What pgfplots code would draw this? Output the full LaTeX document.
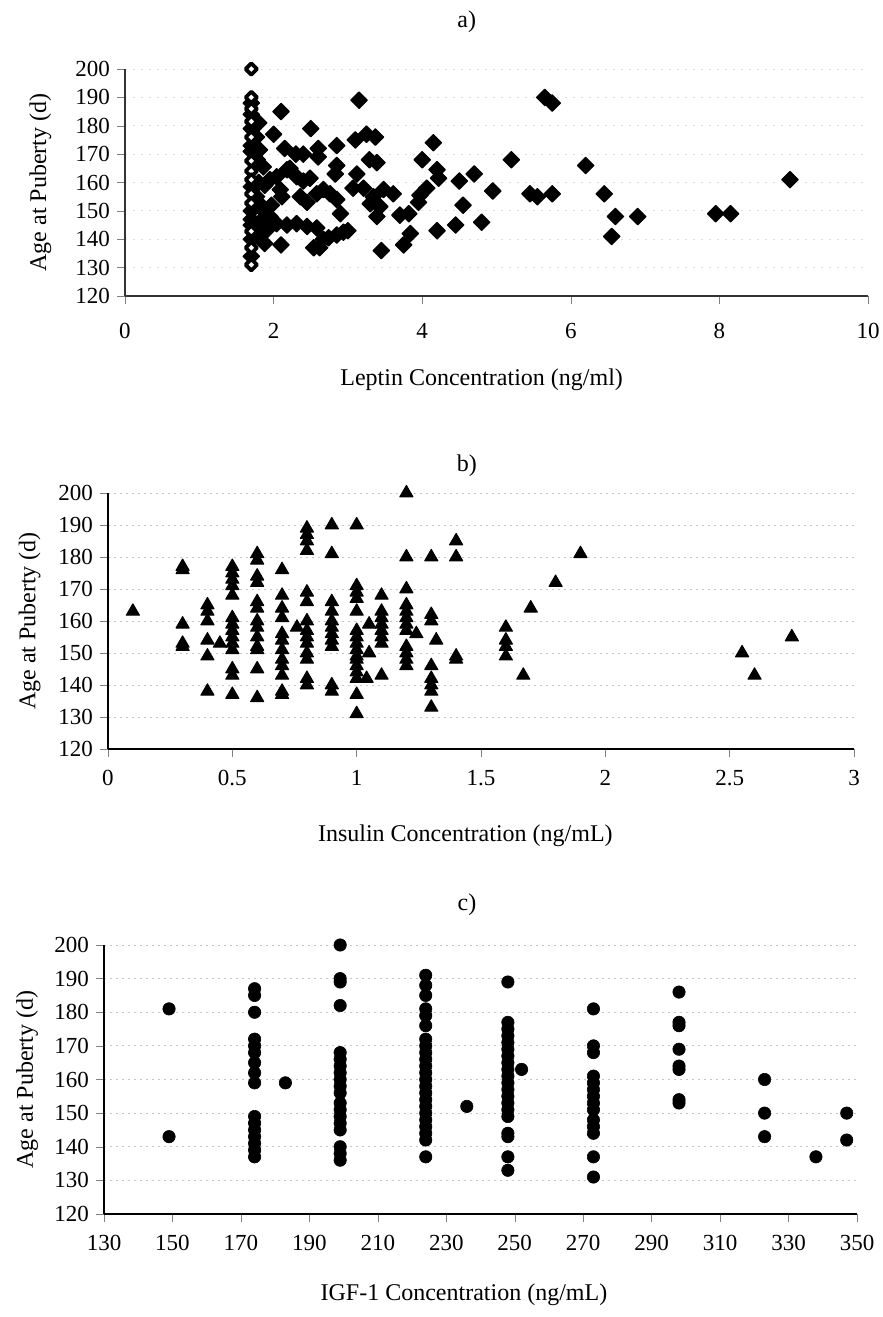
\documentclass[border=0pt]{standalone}
\usepackage{pgfplots}
\pgfplotsset{compat=1.18}
\usepackage{fontspec}
\setmainfont{Liberation Serif}

\pgfplotsset{
  panel/.style={
    scale only axis, anchor=south west,
    axis lines=left, axis line style={-},
    tick align=outside, major tick length=4pt,
    ymin=120, ymax=200, ytick={120,130,...,200},
    ymajorgrids, major grid style={gray!45, dash pattern=on 1pt off 2pt},
    /pgf/number format/assume math mode=true,
    tick label style={font=\fontsize{11.5}{13}\selectfont},
    label style={font=\fontsize{12}{14}\selectfont},
    title style={font=\fontsize{12}{14}\selectfont, anchor=center, yshift=-6pt},
    ylabel={Age at Puberty (d)},
    clip=false,
  },
}

\begin{document}
\begin{tikzpicture}
\useasboundingbox (0pt,0pt) rectangle (441.5pt,658.5pt);

% a) leptin
\begin{axis}[panel, at={(62.5pt,510.5pt)}, width=371.5pt, height=113.5pt,
  xmin=0, xmax=10, xtick={0,2,...,10},
  axis line style={line width=0.6pt, black!80},
  major grid style={gray!25, dash pattern=on 1pt off 3pt},
  xticklabel style={yshift=-6pt},
  title={a)}, title style={at={(axis description cs:0.46,1.207)}},
  xlabel={Leptin Concentration (ng/ml)},
  xlabel style={at={(axis description cs:0.48,-0.37)}, anchor=center},
  ylabel style={at={(axis description cs:-0.114,0.5)}, anchor=center}]
\addplot[only marks, mark=square*, mark size=2.9pt,
  mark options={rotate=45, fill=black, draw=black, line width=0.6pt, line join=round}]
  coordinates {
  (1.7,188)(1.7,184)(1.7,179)(1.7,173)(1.7,171)(1.7,158.5)(1.7,150)(1.7,147)(1.7,145)(1.7,140)(1.7,134)
  (1.8,145)(1.82,141)(1.8,160)(1.78,168)(1.83,152)(1.9,143)(1.85,147)
  (1.8,181)(2.1,185)(2.0,177)(2.5,179)(2.15,172)(2.3,170)(2.4,170)(2.6,172)(2.6,169)
  (2.85,173)(2.85,166)(2.83,163)(3.15,189)(3.1,175)(3.25,177)(3.37,176)(3.29,168)(3.39,167)
  (3.12,163)(4.0,168)(4.15,174)(4.2,164.5)(4.22,161.5)(4.5,160.5)(4.7,163)(4.55,152)(4.8,146)
  (4.45,145)(4.2,143)(3.97,155.5)(4.06,158)(3.95,153)(3.84,142)(3.75,138)(3.45,136)(3.82,149)
  (3.7,148.5)(3.61,156)(3.48,157.5)(3.34,155)(3.21,158)(3.07,158)(3.39,148)(3.43,151.5)(3.3,152.5)
  (3.0,143)(2.94,142.5)(2.85,141.5)(2.74,140.5)(2.62,137)(2.54,137)(2.67,140)(2.58,144)(2.45,144.5)
  (2.31,145.5)(2.18,145)(2.04,145.5)(2.1,138)(1.88,138.5)(1.95,148)(1.86,150)(1.97,152)(1.77,155)
  (1.88,159)(1.95,161)(2.04,162)(2.18,164.5)(2.22,165)(2.09,157.5)(2.11,155)(2.31,162)(2.4,160.5)
  (2.49,161.5)(2.36,155)(2.45,153)(2.58,156)(2.67,157.5)(2.76,156)(2.85,154)(2.9,149)(1.86,165.5)
  (1.81,171.5)(1.77,176)(5.65,190)(5.75,188)(5.2,168)(6.2,166)(8.95,161)(4.95,157)(5.45,156)
  (5.55,155)(5.75,156)(6.45,156)(6.6,148)(6.9,148)(6.55,141)(7.95,149)(8.15,149)
  };
\addplot[only marks, mark=square*, mark size=2pt,
  mark options={rotate=45, fill=white, draw=black, line width=1.9pt, line join=round}]
  coordinates {
  (1.7,200)(1.7,190)(1.7,186)(1.7,181.5)(1.7,176)(1.7,167.6)(1.7,164)(1.7,161)(1.7,156)
  (1.7,152.7)(1.7,142.8)(1.7,137)(1.7,131)
  };
\end{axis}

% b) insulin
\begin{axis}[panel, at={(54pt,284pt)}, width=373pt, height=128pt,
  xmin=0, xmax=3, xtick={0,0.5,...,3},
  axis line style={line width=1.2pt},
  xticklabel style={yshift=-3pt},
  title={b)}, title style={at={(axis description cs:0.481,1.105)}},
  xlabel={Insulin Concentration (ng/mL)},
  xlabel style={at={(axis description cs:0.479,-0.34)}, anchor=center},
  ylabel style={at={(axis description cs:-0.105,0.5)}, anchor=center}]
\addplot[only marks, mark=triangle*, mark size=3.8pt,
  mark options={fill=black, draw=black, line width=0.5pt, line join=round}]
  coordinates {
  (0.1,163)
  (0.3,177)(0.3,176)(0.3,159)(0.3,152)(0.3,153)
  (0.4,165)(0.4,163)(0.4,160)(0.4,154)(0.4,149)(0.4,138)
  (0.45,153)
  (0.5,177)(0.5,175)(0.5,173)(0.5,171)(0.5,168)(0.5,161)(0.5,159)(0.5,157)(0.5,155)(0.5,153)
  (0.5,151)(0.5,145)(0.5,143)(0.5,137)
  (0.6,181)(0.6,179)(0.6,174)(0.6,172)(0.6,166)(0.6,164)(0.6,160)(0.6,158)(0.6,155)(0.6,152)
  (0.6,151)(0.6,145)(0.6,136)
  (0.7,176)(0.7,168)(0.7,164)(0.7,161)(0.7,156)(0.7,154)(0.7,151)(0.7,148)(0.7,146)(0.7,143)
  (0.7,138)(0.7,137)
  (0.76,158)
  (0.8,189)(0.8,187)(0.8,185)(0.8,182)(0.8,169)(0.8,166)(0.8,160)(0.8,157)(0.8,155)(0.8,153)
  (0.8,150)(0.8,148)(0.8,142)(0.8,140)
  (0.9,190)(0.9,181)(0.9,166)(0.9,163)(0.9,160)(0.9,158)(0.9,156)(0.9,154)(0.9,152)(0.9,140)(0.9,138)
  (1.0,190)(1.0,171)(1.0,169)(1.0,167)(1.0,163)(1.0,157)(1.0,155)(1.0,153)(1.0,151)(1.0,149)
  (1.0,148)(1.0,146)(1.0,144)(1.0,142)(1.0,137)(1.0,131)
  (1.04,142)(1.05,159)(1.05,150)
  (1.1,168)(1.1,163)(1.1,161)(1.1,159)(1.1,157)(1.1,155)(1.1,153)(1.1,143)
  (1.2,200)(1.2,180)(1.2,170)(1.2,165)(1.2,163)(1.2,161)(1.2,159)(1.2,157)(1.2,152)(1.2,150)
  (1.2,148)(1.2,146)
  (1.24,156)
  (1.3,180)(1.3,162)(1.3,160)(1.3,146)(1.3,142)(1.3,140)(1.3,138)(1.3,133)
  (1.32,154)
  (1.4,185)(1.4,180)(1.4,149)(1.4,148)
  (1.6,158)(1.6,154)(1.6,152)(1.6,149)
  (1.67,143)(1.7,164)(1.8,172)(1.9,181)
  (2.55,150)(2.6,143)(2.75,155)
  };
\end{axis}

% c) IGF-1
\begin{axis}[panel, at={(52pt,51.5pt)}, width=376.5pt, height=134.5pt,
  xmin=130, xmax=350, xtick={130,150,...,350},
  axis line style={line width=1.2pt},
  xticklabel style={yshift=-3pt},
  title={c)}, title style={at={(axis description cs:0.482,1.149)}},
  xlabel={IGF-1 Concentration (ng/mL)},
  xlabel style={at={(axis description cs:0.478,-0.30)}, anchor=center},
  ylabel style={at={(axis description cs:-0.102,0.5)}, anchor=center}]
\addplot[only marks, mark=*, mark size=3.1pt,
  mark options={fill=black, draw=black, line width=0.3pt}]
  coordinates {
  (149,181)(149,143)
  (174,187)(174,185)(174,180)(174,172)(174,170)(174,168)(174,165)(174,162)(174,159)
  (174,149)(174,147)(174,145)(174,143)(174,141)(174,139)(174,137)
  (183,159)
  (199,200)(199,190)(199,189)(199,182)(199,168)(199,166)(199,164)(199,162)(199,160)(199,158)
  (199,156)(199,153)(199,151)(199,149)(199,147)(199,145)(199,140)(199,138)(199,136)
  (224,191)(224,188)(224,185)(224,181)(224,179)(224,176)(224,172)(224,170)(224,168)(224,166)
  (224,164)(224,162)(224,160)(224,158)(224,156)(224,154)(224,152)(224,150)(224,148)(224,146)
  (224,144)(224,142)(224,137)
  (236,152)
  (248,189)(248,177)(248,175)(248,173)(248,171)(248,169)(248,167)(248,165)(248,163)(248,161)
  (248,159)(248,157)(248,155)(248,153)(248,151)(248,149)(248,144)(248,143)(248,137)(248,133)
  (252,163)
  (273,181)(273,170)(273,168)(273,161)(273,159)(273,157)(273,155)(273,153)(273,151)(273,148)
  (273,146)(273,144)(273,137)(273,131)
  (298,186)(298,177)(298,176)(298,169)(298,164)(298,163)(298,154)(298,153)
  (323,160)(323,150)(323,143)
  (338,137)
  (347,150)(347,142)
  };
\end{axis}
\end{tikzpicture}
\end{document}
